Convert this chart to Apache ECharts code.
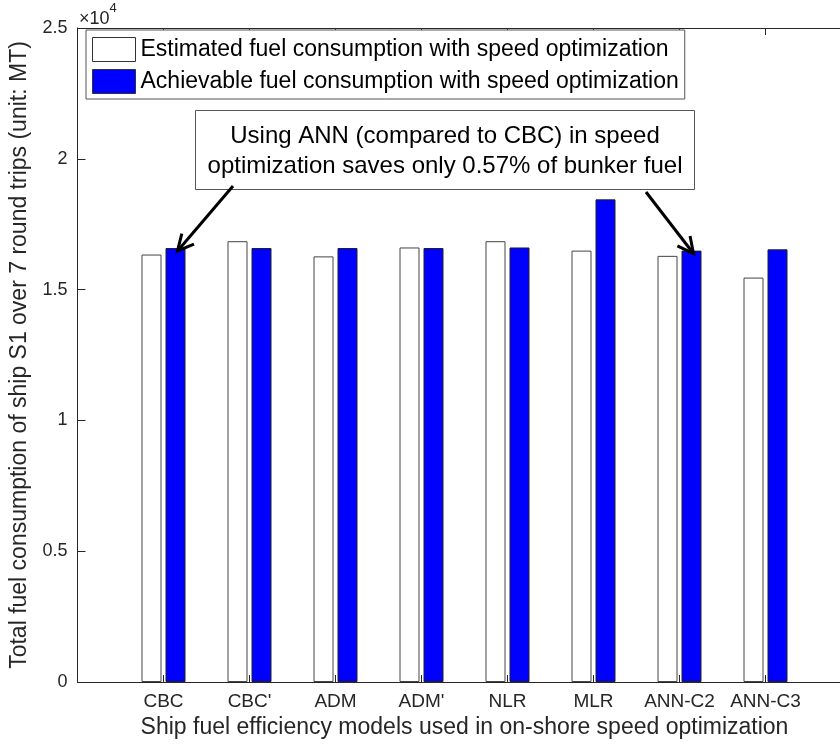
<!DOCTYPE html>
<html>
<head>
<meta charset="utf-8">
<script src="https://cdn.jsdelivr.net/npm/echarts@6/dist/echarts.min.js"></script>
<style>html,body{margin:0;padding:0;background:#fff}#c{width:840px;height:744px}</style>
</head>
<body>
<div id="c"></div>
<script>
const categories = ['CBC', "CBC'", 'ADM', "ADM'", 'NLR', 'MLR', 'ANN-C2', 'ANN-C3'];
const estimated = [16340, 16850, 16270, 16610, 16850, 16490, 16290, 15460];
const achievable = [16590, 16590, 16590, 16590, 16610, 18450, 16490, 16540];
const yTicks = ['0', '0.5', '1', '1.5', '2', '2.5'];
const seriesNames = ['Estimated fuel consumption with speed optimization', 'Achievable fuel consumption with speed optimization'];
const noteLines = ['Using ANN (compared to CBC) in speed', 'optimization saves only 0.57% of bunker fuel'];

const FONT = 'Liberation Sans, Arial, sans-serif';
const TXT = '#262626';
const chart = echarts.init(document.getElementById('c'), null, {renderer: 'canvas'});

const GRID = {left: 77.5, top: 28, width: 774, height: 654};
const BW = 20;

const option = {
  animation: false,
  backgroundColor: '#fff',
  textStyle: {fontFamily: FONT},
  grid: Object.assign({containLabel: false, outerBoundsMode: 'none'}, GRID),
  legend: {
    left: 86, top: 30,
    orient: 'vertical',
    padding: [7, 6, 5, 6],
    itemGap: 7,
    itemWidth: 43, itemHeight: 24,
    backgroundColor: '#fff',
    borderColor: '#555', borderWidth: 1,
    textStyle: {fontSize: 23, color: '#000', fontFamily: FONT},
    data: [
      {name: seriesNames[0], icon: 'rect', itemStyle: {color: '#fff', borderColor: '#333', borderWidth: 1}},
      {name: seriesNames[1], icon: 'rect', itemStyle: {color: '#0000ff', borderColor: '#333', borderWidth: 1}}
    ],
    z: 10
  },
  xAxis: [{
    type: 'value', min: 0, max: 9, interval: 1,
    position: 'bottom',
    axisLine: {show: true, lineStyle: {color: TXT, width: 1}},
    axisTick: {show: true, inside: true, length: 7, lineStyle: {color: TXT}},
    splitLine: {show: false},
    axisLabel: {
      fontSize: 19, color: TXT, margin: 10, fontFamily: FONT,
      formatter: v => (v >= 1 && v <= categories.length) ? categories[v - 1] : ''
    },
    name: 'Ship fuel efficiency models used in on-shore speed optimization',
    nameLocation: 'middle', nameGap: 31,
    nameTextStyle: {fontSize: 23, color: TXT, fontFamily: FONT}
  }, {
    type: 'value', min: 0, max: 9, interval: 1,
    position: 'top',
    axisLine: {show: true, lineStyle: {color: TXT, width: 1}},
    axisTick: {show: true, inside: true, length: 7, lineStyle: {color: TXT}},
    splitLine: {show: false},
    axisLabel: {show: false}
  }],
  yAxis: {
    type: 'value', min: 0, max: 25000, interval: 5000,
    axisLine: {show: true, lineStyle: {color: TXT, width: 1}},
    axisTick: {show: true, inside: true, length: 8, lineStyle: {color: TXT}},
    splitLine: {show: false},
    axisLabel: {
      fontSize: 18, color: TXT, margin: 10, fontFamily: FONT,
      formatter: v => yTicks[Math.round(v / 5000)]
    },
    name: 'Total fuel consumption of ship S1 over 7 round trips (unit: MT)',
    nameLocation: 'middle', nameGap: 44, nameRotate: 90,
    nameTextStyle: {fontSize: 23, color: TXT, fontFamily: FONT}
  },
  series: [{
    name: seriesNames[0], type: 'bar', xAxisIndex: 0,
    barWidth: BW, barGap: '20%',
    itemStyle: {color: '#fff', borderColor: '#444', borderWidth: 1},
    data: estimated.map((v, i) => [i + 1, v])
  }, {
    name: seriesNames[1], type: 'bar', xAxisIndex: 0,
    barWidth: BW, barGap: '20%',
    itemStyle: {color: '#0000ff', borderColor: '#222', borderWidth: 1},
    data: achievable.map((v, i) => [i + 1, v])
  }]
};
chart.setOption(option);

// annotation (figure-positioned text box) with arrows pointing to bar tops
function arrowTo(tail, tip) {
  const dx = tip[0] - tail[0], dy = tip[1] - tail[1];
  const len = Math.sqrt(dx * dx + dy * dy);
  const ux = dx / len, uy = dy / len;
  const hl = 16, hw = 8;
  const bx = tip[0] - ux * hl, by = tip[1] - uy * hl;
  const px = -uy, py = ux;
  return [{
    type: 'line', z: 20,
    shape: {x1: tail[0], y1: tail[1], x2: tip[0] - ux * 2, y2: tip[1] - uy * 2},
    style: {stroke: '#000', lineWidth: 3}
  }, {
    type: 'polyline', z: 20,
    shape: {points: [[bx + px * hw, by + py * hw], [tip[0], tip[1]], [bx - px * hw, by - py * hw]]},
    style: {stroke: '#000', lineWidth: 3, fill: null}
  }];
}
const barOffset = (BW + BW * 0.2) / 2;
function blueTop(i) {
  const p = chart.convertToPixel({xAxisIndex: 0, yAxisIndex: 0}, [i + 1, achievable[i]]);
  return [p[0] + barOffset + 2, p[1] + 3];
}
const box = {x: 195.5, y: 110.5, w: 499, h: 79};
const graphics = [{
  type: 'rect', z: 15,
  shape: {x: box.x, y: box.y, width: box.w, height: box.h},
  style: {fill: '#fff', stroke: '#555', lineWidth: 1}
}, {
  type: 'text', z: 16,
  style: {
    x: box.x + box.w / 2, y: box.y + 41, text: noteLines.join('\n'),
    align: 'center', verticalAlign: 'middle',
    font: '24px ' + FONT, fill: '#000', lineHeight: 30
  }
}, {
  type: 'text', z: 16,
  style: {
    x: 79, y: 2,
    text: '{a|\u00d710}{b|4}',
    rich: {
      a: {fontSize: 18, fontFamily: FONT, fill: TXT, color: TXT, padding: [8, 0, 0, 0]},
      b: {fontSize: 13, fontFamily: FONT, fill: TXT, color: TXT, verticalAlign: 'top'}
    }
  }
}];
const t1 = blueTop(0);
const t2 = blueTop(6);
graphics.push(...arrowTo([233, 186], t1));
graphics.push(...arrowTo([646, 192], t2));
chart.setOption({graphic: graphics});
</script>
</body>
</html>
